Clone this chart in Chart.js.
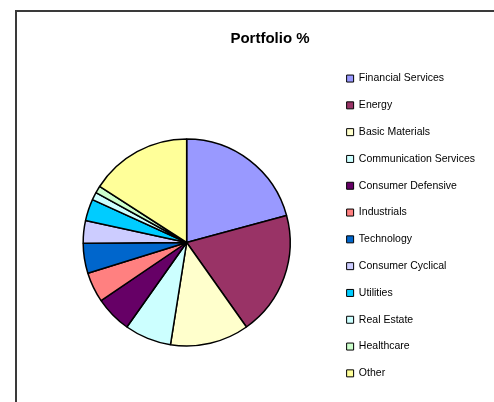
<!DOCTYPE html>
<html lang="en">
<head>
    <meta charset="UTF-8">
    <title>Portfolio %</title>
    <script src="https://cdn.jsdelivr.net/npm/chart.js"></script>
    <style>
        body { margin: 0; width: 494px; height: 402px; overflow: hidden; background: #fff; position: relative; }
        #frame { position: absolute; left: 15px; top: 10px; width: 520px; height: 420px; border-left: 2px solid #3a3a3a; border-top: 2px solid #3a3a3a; }
        #chart { position: absolute; left: 15px; top: 10px; }
    </style>
</head>
<body>
    <div id="frame"></div>
    <canvas id="chart" width="510" height="450"></canvas>

    <script>
        const sectors = ['Financial Services', 'Energy', 'Basic Materials', 'Communication Services',
            'Consumer Defensive', 'Industrials', 'Technology', 'Consumer Cyclical', 'Utilities',
            'Real Estate', 'Healthcare', 'Other'];
        const weights = [20.8, 19.4, 12.3, 7.3, 5.7, 4.7, 4.7, 3.5, 3.4, 1.2, 1.1, 15.9];
        const fills = ['#9999FF', '#993366', '#FFFFCC', '#CCFFFF', '#660066', '#FF8080',
            '#0066CC', '#CCCCFF', '#00CCFF', '#CCFFFF', '#CCFFCC', '#FFFF99'];

        const font = '"Liberation Sans", Arial, sans-serif';

        // title sits in the middle of the whole frame, not of the padded area
        const centerTitle = {
            id: 'centerTitle',
            afterLayout(chart) {
                const t = chart.titleBlock;
                const shift = chart.width / 2 - (t.left + t.right) / 2;
                t.left += shift;
                t.right += shift;
            }
        };

        function renderChart() {
            const ctx = document.getElementById('chart').getContext('2d');
            new Chart(ctx, {
                type: 'pie',
                data: {
                    labels: sectors,
                    datasets: [{
                        data: weights,
                        backgroundColor: fills,
                        borderColor: '#000',
                        borderWidth: 1.5,
                        radius: 103.5
                    }]
                },
                plugins: [centerTitle],
                options: {
                    responsive: false,
                    devicePixelRatio: 1,
                    animation: false,
                    layout: { padding: { left: 28, right: 40, top: 19, bottom: 32 } },
                    plugins: {
                        tooltip: { enabled: false },
                        title: {
                            display: true,
                            text: 'Portfolio %',
                            color: '#000',
                            font: { family: font, size: 15, weight: 'bold' },
                            padding: { top: 1, bottom: 9 }
                        },
                        legend: {
                            position: 'right',
                            align: 'start',
                            title: {
                                display: true,
                                text: ' ',
                                font: { family: font, size: 10.5 },
                                padding: { top: 15.4, bottom: 0 }
                            },
                            labels: {
                                color: '#000',
                                font: { family: font, size: 10.5 },
                                boxWidth: 7,
                                boxHeight: 7,
                                padding: 16.3,
                                generateLabels(chart) {
                                    const items = Chart.overrides.pie.plugins.legend.labels.generateLabels(chart);
                                    items.forEach(item => { item.lineWidth = 1; });
                                    return items;
                                }
                            }
                        }
                    }
                }
            });
        }

        renderChart();
    </script>
</body>
</html>
